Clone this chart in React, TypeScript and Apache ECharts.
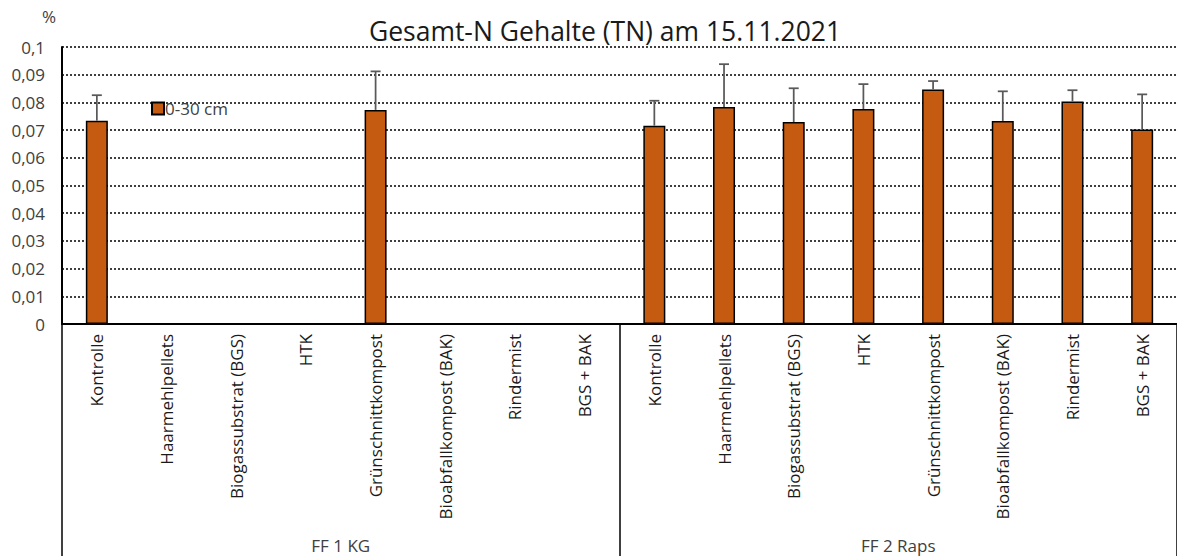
import React, { useEffect, useRef } from "react";
import * as echarts from "echarts";

const treatments = [
  "Kontrolle",
  "Haarmehlpellets",
  "Biogassubstrat (BGS)",
  "HTK",
  "Grünschnittkompost",
  "Bioabfallkompost (BAK)",
  "Rindermist",
  "BGS + BAK",
];
const groups = ["FF 1 KG", "FF 2 Raps"];
const categories = [...treatments, ...treatments];
const seriesName = "0-30 cm";
const values: (number | null)[] = [
  0.0734, null, null, null, 0.0773, null, null, null,
  0.0716, 0.0783, 0.0729, 0.0776, 0.0847, 0.0733, 0.0803, 0.0702,
];
const errors: (number | null)[] = [
  0.0092, null, null, null, 0.0139, null, null, null,
  0.009, 0.0155, 0.0122, 0.009, 0.003, 0.0107, 0.0041, 0.0127,
];
const yTicks = [0, 0.01, 0.02, 0.03, 0.04, 0.05, 0.06, 0.07, 0.08, 0.09, 0.1];

const FONT = "Open Sans";

export default function App() {
  const ref = useRef<HTMLDivElement>(null);
  useEffect(() => {
    if (!ref.current) return;
    const chart = echarts.init(ref.current, undefined, { renderer: "svg" });
    const errData = values
      .map((v, i) => (v == null || errors[i] == null ? null : [i, v, errors[i]]))
      .filter((d) => d != null);
    chart.setOption({
      animation: false,
      backgroundColor: "#fff",
      textStyle: { fontFamily: FONT },
      title: {
        text: "Gesamt-N Gehalte (TN) am 15.11.2021",
        left: 600,
        textAlign: "center",
        top: 12,
        textStyle: { fontFamily: FONT, fontSize: 26.5, fontWeight: "normal", color: "#1a1a1a" },
      },
      legend: {
        data: [seriesName],
        left: 146,
        top: 95,
        itemWidth: 12,
        itemHeight: 12,
        icon: "rect",
        itemGap: 4,
        textStyle: { fontFamily: FONT, fontSize: 17, color: "#404040", padding: [0, 0, 0, -4] },
      },
      grid: { left: 62, right: -8, top: 47, bottom: 232, containLabel: false },
      xAxis: [
        {
          type: "category",
          data: categories,
          axisLine: { show: true, lineStyle: { color: "#000", width: 2 } },
          axisTick: { show: false },
          axisLabel: {
            interval: 0,
            rotate: 90,
            margin: 10,
            fontFamily: FONT,
            fontSize: 17,
            color: "#1a1a1a",
          },
          splitLine: { show: false },
        },
        {
          type: "category",
          data: groups,
          position: "bottom",
          axisLine: { show: false },
          axisTick: { show: true, length: 240, lineStyle: { color: "#000", width: 1.5 } },
          axisLabel: {
            interval: 0,
            margin: 213,
            fontFamily: FONT,
            fontSize: 17,
            color: "#404040",
          },
          splitLine: { show: false },
        },
      ],
      yAxis: {
        type: "value",
        min: yTicks[0],
        max: yTicks[yTicks.length - 1],
        interval: 0.01,
        axisLine: { show: true, lineStyle: { color: "#000", width: 2 } },
        axisTick: { show: false },
        axisLabel: {
          margin: 17,
          fontFamily: FONT,
          fontSize: 17,
          color: "#404040",
          formatter: (v: number) => (v === 0 ? "0" : String(+v.toFixed(2)).replace(".", ",")),
        },
        splitLine: { show: true, lineStyle: { color: "#000", width: 1.5, type: [2, 2] } },
      },
      graphic: [
        {
          type: "text",
          left: 42,
          top: 8,
          style: { text: "%", fontFamily: FONT, fontSize: 17, fill: "#404040" },
        },
      ],
      series: [
        {
          name: seriesName,
          type: "bar",
          xAxisIndex: 0,
          data: values,
          barWidth: 22,
          itemStyle: { color: "#C55A11", borderColor: "#000", borderWidth: 1.5 },
        },
        {
          type: "custom",
          xAxisIndex: 0,
          data: errData,
          z: 3,
          encode: { x: 0, y: 1 },
          renderItem: (params: any, api: any) => {
            const i = api.value(0);
            const v = api.value(1);
            const e = api.value(2);
            const p0 = api.coord([i, v]);
            const p1 = api.coord([i, v + e]);
            const st = { stroke: "#595959", lineWidth: 1.75 };
            return {
              type: "group",
              children: [
                { type: "line", shape: { x1: p0[0], y1: p0[1], x2: p1[0], y2: p1[1] }, style: st },
                { type: "line", shape: { x1: p1[0] - 5, y1: p1[1], x2: p1[0] + 5, y2: p1[1] }, style: st },
              ],
            };
          },
        },
      ],
    });
    return () => chart.dispose();
  }, []);
  return (
    <div
      ref={ref}
      style={{ position: "fixed", left: 0, top: 0, width: 1177, height: 556, background: "#fff" }}
    />
  );
}
